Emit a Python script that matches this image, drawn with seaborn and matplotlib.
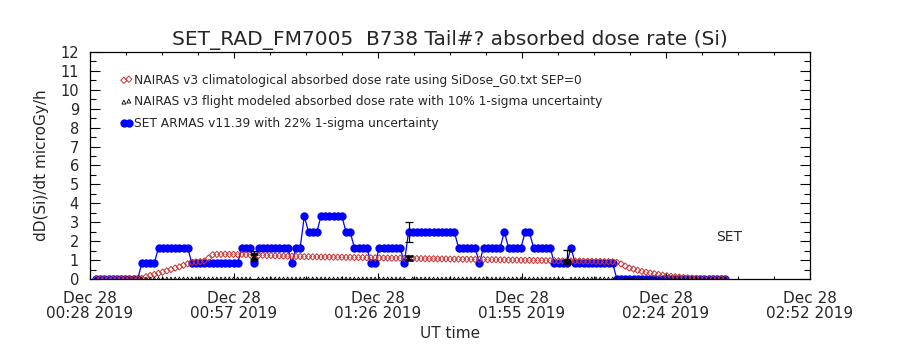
import numpy as np
import pandas as pd
import matplotlib
matplotlib.use("Agg")
import matplotlib.pyplot as plt
from matplotlib.ticker import FixedLocator
import seaborn as sns

# sample clock: minutes after 00:00 UT on Dec 28 2019, one sample every 50 s
t_start = 29.2
t_step = 50 / 60

# SET ARMAS v11.39 dose rate (microGy/h)
set_armas = [
    0, 0, 0, 0, 0, 0, 0, 0, 0, 0, 0,
    0.83, 0.83, 0.83, 0.83,
    1.66, 1.66, 1.66, 1.66, 1.66, 1.66, 1.66, 1.66,
    0.83, 0.83, 0.83, 0.83, 0.83, 0.83, 0.83, 0.83, 0.83, 0.83, 0.83, 0.83,
    1.66, 1.66, 1.66, 0.83,
    1.66, 1.66, 1.66, 1.66, 1.66, 1.66, 1.66, 1.66, 0.83,
    1.66, 1.66, 3.32, 2.49, 2.49, 2.49,
    3.32, 3.32, 3.32, 3.32, 3.32, 3.32, 2.49, 2.49,
    1.66, 1.66, 1.66, 1.66, 0.83, 0.83,
    1.66, 1.66, 1.66, 1.66, 1.66, 1.66, 0.83,
    2.49, 2.49, 2.49, 2.49, 2.49, 2.49, 2.49, 2.49, 2.49, 2.49, 2.49, 2.49,
    1.66, 1.66, 1.66, 1.66, 1.66, 0.83,
    1.66, 1.66, 1.66, 1.66, 1.66, 2.49,
    1.66, 1.66, 1.66, 1.66, 2.49, 2.49,
    1.66, 1.66, 1.66, 1.66, 1.66,
    0.83, 0.83, 0.83, 0.83, 1.66,
    0.83, 0.83, 0.83, 0.83, 0.83, 0.83, 0.83, 0.83, 0.83, 0.83,
    0, 0, 0, 0, 0, 0, 0, 0, 0, 0, 0, 0, 0, 0, 0, 0, 0, 0, 0, 0, 0, 0, 0, 0, 0, 0, 0,
]

# NAIRAS v3 climatological dose rate
nairas_clim = [
    0, 0, 0, 0, 0, 0, 0, 0, 0, 0, 0,
    0.03, 0.12, 0.18, 0.24, 0.30, 0.36, 0.43, 0.50, 0.58, 0.64, 0.72, 0.80,
    0.88, 0.90, 0.92, 0.95, 1.10, 1.28,
    1.30, 1.30, 1.31, 1.30, 1.30, 1.29, 1.30, 1.28, 1.27, 1.26,
    1.25, 1.25, 1.24, 1.24, 1.22, 1.22, 1.21, 1.20, 1.20, 1.19, 1.19, 1.18,
    1.18, 1.17, 1.17, 1.16, 1.16, 1.16, 1.15, 1.15, 1.15, 1.14,
    1.14, 1.13, 1.13, 1.13, 1.12, 1.12, 1.12, 1.11, 1.11, 1.11, 1.10, 1.10, 1.10, 1.09,
    1.09, 1.08, 1.08, 1.08, 1.07, 1.07, 1.07, 1.06, 1.06, 1.06, 1.05, 1.05, 1.05, 1.04, 1.04, 1.04,
    1.03, 1.03, 1.03, 1.02, 1.02, 1.02, 1.01, 1.01, 1.00, 1.00, 1.00, 0.99, 0.99, 0.99,
    0.98, 0.98, 0.98, 0.97, 0.97, 0.97,
    0.96, 0.96, 0.96, 0.95, 0.95, 0.95, 0.94, 0.94, 0.94, 0.93, 0.93, 0.92, 0.92, 0.91,
    0.88, 0.80, 0.68, 0.58, 0.52, 0.46, 0.40, 0.36, 0.32, 0.28, 0.24, 0.20, 0.17,
    0.14, 0.12, 0.10, 0.08, 0.06, 0.04, 0.03, 0.02,
    0, 0, 0, 0, 0, 0,
]

# NAIRAS v3 flight modeled dose rate (starts at sample 11)
flight_first = 11
flight_vals = [0.0] * 27 + [1.20] + [0.0] * 36 + [1.10] + [0.0] * 37 + [0.92] + [0.0] * 38

# samples carrying uncertainty bars
err_idx = [38, 75, 113]
set_err_center = [1.23, 2.49, 1.25]
set_sigma = 0.22
flight_sigma = 0.10

tick_pos = [28, 56.8, 85.6, 114.4, 143.2, 172]
tick_lab = ["Dec 28\n00:28 2019", "Dec 28\n00:57 2019", "Dec 28\n01:26 2019",
            "Dec 28\n01:55 2019", "Dec 28\n02:24 2019", "Dec 28\n02:52 2019"]

t = t_start + t_step * np.arange(len(set_armas))
df = pd.DataFrame({"t": t, "set": set_armas, "clim": nairas_clim})
fl = pd.DataFrame({"t": t[flight_first:], "flight": flight_vals})

sns.set_theme(style="ticks")
plt.rcParams["font.family"] = ["DejaVu Sans"]

fig = plt.figure(figsize=(9, 3.5), dpi=100)
ax = fig.add_axes([0.1, 0.2029, 0.8, 0.6486])

sns.lineplot(data=df, x="t", y="set", ax=ax, color="#0000ff", linewidth=0.9,
             marker="o", markersize=6, markeredgewidth=0, zorder=2,
             label="SET ARMAS v11.39 with 22% 1-sigma uncertainty")
sns.scatterplot(data=df, x="t", y="clim", ax=ax, marker="D", s=10,
                facecolors="none", edgecolor="#c83232", linewidth=0.7, zorder=3,
                label="NAIRAS v3 climatological absorbed dose rate using SiDose_G0.txt SEP=0")
sns.scatterplot(data=fl, x="t", y="flight", ax=ax, marker="^", s=8,
                facecolors="none", edgecolor="black", linewidth=0.6, zorder=4,
                label="NAIRAS v3 flight modeled absorbed dose rate with 10% 1-sigma uncertainty")

et = t[err_idx]
sc = np.array(set_err_center)
ax.errorbar(et, sc, yerr=sc * set_sigma, fmt="none", ecolor="black",
            elinewidth=0.9, capsize=3, capthick=0.9, zorder=5)
fv = np.array([flight_vals[i - flight_first] for i in err_idx])
ax.errorbar(et, fv, yerr=fv * flight_sigma, fmt="none", ecolor="black",
            elinewidth=1.4, capsize=3, capthick=1.8, zorder=5)

ax.text(155.8, 2.2, "SET", fontsize=10, ha="center", va="center")

ax.set_xlim(28, 172)
ax.set_ylim(0, 12)
ax.set_xticks(tick_pos)
ax.set_xticklabels(tick_lab)
ax.xaxis.set_minor_locator(FixedLocator(np.arange(28, 172.1, 7.2)))
ax.set_yticks(range(0, 13))
ax.yaxis.set_minor_locator(FixedLocator(np.arange(0.5, 12, 1.0)))
for lbl in ax.get_xticklabels():
    lbl.set_linespacing(1.0)

ax.tick_params(axis="x", which="both", direction="in", top=True, bottom=True,
               labelsize=11, pad=9, color="black", width=0.8)
ax.tick_params(axis="x", which="major", length=4)
ax.tick_params(axis="x", which="minor", length=2.5)
ax.tick_params(axis="y", which="both", direction="in", left=True, right=True,
               labelsize=10.5, pad=8, color="black", width=0.8)
ax.tick_params(axis="y", which="major", length=7)
ax.tick_params(axis="y", which="minor", length=4)
for s in ax.spines.values():
    s.set_color("black")
    s.set_linewidth(0.9)

ax.set_xlabel("UT time", fontsize=11, labelpad=3)
ax.set_ylabel("dD(Si)/dt microGy/h", fontsize=11, labelpad=8)
ax.set_title("SET_RAD_FM7005  B738 Tail#? absorbed dose rate (Si)", fontsize=14.5, pad=5)

h, l = ax.get_legend_handles_labels()
order = [1, 2, 0]
ax.legend([h[i] for i in order], [l[i] for i in order], loc="upper left",
          bbox_to_anchor=(0.042, 0.905), frameon=False, fontsize=8.8, numpoints=2,
          scatterpoints=2, handlelength=1.0, handletextpad=0.1, labelspacing=0.72,
          borderpad=0, borderaxespad=0)

fig.savefig("out.png", dpi=100)
